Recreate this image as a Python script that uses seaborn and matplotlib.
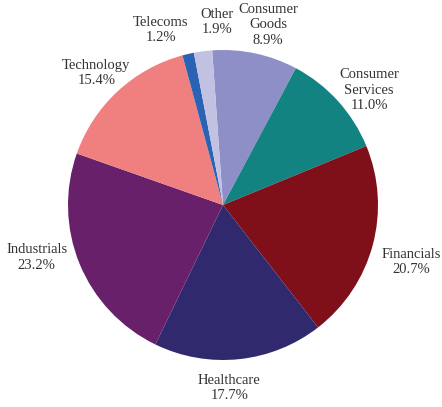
import numpy as np
import seaborn as sns
import matplotlib.pyplot as plt

sns.set_style('white')
plt.rcParams['font.family'] = ['Liberation Serif', 'DejaVu Serif']

sectors = ['Consumer\nGoods', 'Consumer\nServices', 'Financials', 'Healthcare',
           'Industrials', 'Technology', 'Telecoms', 'Other']
shares = [8.9, 11.0, 20.7, 17.7, 23.2, 15.4, 1.2, 1.9]
colors = ['#8d8fc6', '#138382', '#7f1019', '#30296e',
          '#69206a', '#f08080', '#2a62b4', '#c2c1e2']

# label placement tweaks (degrees shift from wedge middle, radius factor)
angle_shift = [-2, -4, -2, -4, -6.6, 1, 6.6, -5.6]
label_dist = [1.2, 1.2, 1.27, 1.18, 1.25, 1.18, 1.2, 1.18]

labels = [f'{s}\n{v:.1f}%' for s, v in zip(sectors, shares)]

fig = plt.figure(figsize=(4.42, 4.07), dpi=100)
ax = fig.add_axes([0, 0, 1, 1])
wedges, texts = ax.pie(shares, labels=labels, colors=colors, startangle=94,
                       counterclock=False, labeldistance=1.2,
                       wedgeprops=dict(linewidth=0),
                       textprops=dict(fontsize=10.5, color='#333333',
                                      linespacing=1.25))
for w, t, da, d in zip(wedges, texts, angle_shift, label_dist):
    mid = np.deg2rad((w.theta1 + w.theta2) / 2 + da)
    t.set_position((d * np.cos(mid), d * np.sin(mid)))
    t.set_ha('center')
    t.set_va('center')
    t.set_multialignment('center')

# center at (223, 205) px, radius 155 px
ax.set_xlim(-223 / 155, (442 - 223) / 155)
ax.set_ylim(-(407 - 205) / 155, 205 / 155)
ax.set_aspect('auto')
ax.axis('off')

fig.savefig('out.png', dpi=100)
